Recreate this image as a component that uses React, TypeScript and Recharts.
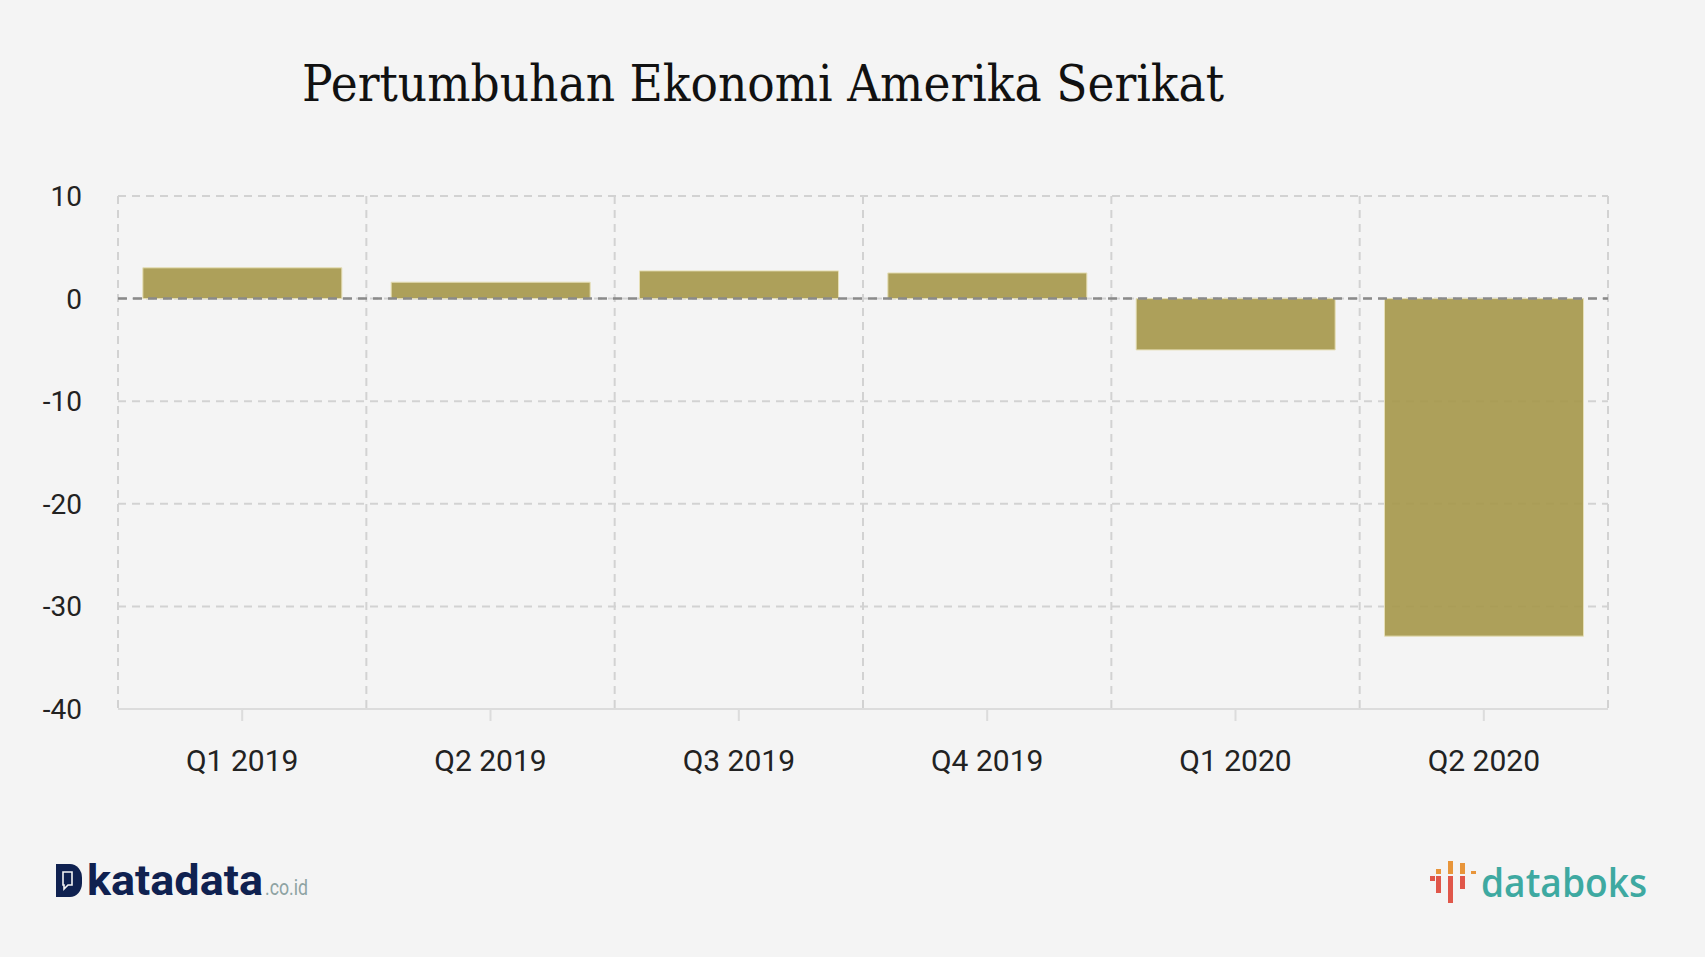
import React from 'react';
import { BarChart, Bar, XAxis, YAxis, CartesianGrid, ReferenceLine } from 'recharts';

const categories = ['Q1 2019', 'Q2 2019', 'Q3 2019', 'Q4 2019', 'Q1 2020', 'Q2 2020'];
const growth = [3.0, 1.6, 2.7, 2.5, -5.0, -32.9];
const yTicks = [-40, -30, -20, -10, 0, 10];
const title = 'Pertumbuhan Ekonomi Amerika Serikat';

const data = categories.map((c, i) => ({ name: c, value: growth[i] }));

const W = 1705;
const H = 957;

export default function App() {
  return (
    <div style={{ position: 'absolute', left: 0, top: 0, width: W, height: H, background: '#f4f4f4', overflow: 'hidden' }}>
      <BarChart
        width={W}
        height={H}
        data={data}
        margin={{ top: 196, right: 97, bottom: 168, left: 8 }}
        barCategoryGap="10%"
      >
        <CartesianGrid
          stroke="#d2d2d2"
          strokeWidth={2}
          strokeDasharray="8 6"
          verticalCoordinatesGenerator={({ offset }: any) => {
            const pts: number[] = [];
            for (let i = 0; i <= categories.length; i++) {
              pts.push(offset.left + (i * offset.width) / categories.length);
            }
            return pts;
          }}
        />
        <XAxis
          dataKey="name"
          height={80}
          axisLine={{ stroke: '#dcdcdc', strokeWidth: 2 }}
          tickLine={{ stroke: '#dcdcdc', strokeWidth: 2 }}
          tickSize={12}
          tickMargin={29}
          tick={{ fill: '#222', fontSize: 30, fontFamily: 'Roboto' }}
          interval={0}
        />
        <YAxis
          width={110}
          domain={[-40, 10]}
          ticks={yTicks}
          axisLine={false}
          tickLine={false}
          tickSize={0}
          tickMargin={36}
          tick={{ fill: '#222', fontSize: 28, fontFamily: 'Roboto' }}
        />
        <Bar
          dataKey="value"
          fill="#a59749"
          fillOpacity={0.9}
          stroke="#e6dfb6"
          strokeWidth={1}
          isAnimationActive={false}
        />
        <ReferenceLine y={0} stroke="#8a8a8a" strokeWidth={2.5} strokeDasharray="9 6" />
      </BarChart>

      <svg
        width={W}
        height={H}
        style={{ position: 'absolute', left: 0, top: 0, pointerEvents: 'none' }}
      >
        <text
          x={302}
          y={101}
          fontFamily="'DejaVu Serif', serif"
          fontSize={50}
          fill="#111"
          textLength={922}
          lengthAdjust="spacingAndGlyphs"
        >
          {title}
        </text>

        {/* katadata logo */}
        <path d="M56 864 H70 A12 14 0 0 1 82 878 V883 A12 14 0 0 1 70 897 H56 Z" fill="#0f2150" />
        <path d="M63 872 H72 V885 H68 L64 889 V885 H63 Z" fill="none" stroke="#f4f4f4" strokeWidth={1.6} />
        <text x={87} y={895} fontFamily="Roboto" fontWeight={700} fontSize={42} fill="#0f2150" textLength={176} lengthAdjust="spacingAndGlyphs">
          katadata
        </text>
        <text x={265} y={895} fontFamily="Roboto" fontSize={22} fill="#8ea3a3" textLength={43} lengthAdjust="spacingAndGlyphs">
          .co.id
        </text>

        {/* databoks logo */}
        <rect x={1430} y={876} width={5} height={5} fill="#e0574a" />
        <rect x={1436} y={869} width={5} height={5} fill="#e8953a" />
        <rect x={1436} y={876} width={5} height={17} fill="#e0574a" />
        <rect x={1448} y={861} width={5} height={13} fill="#e8953a" />
        <rect x={1448} y={876} width={5} height={27} fill="#e0574a" />
        <rect x={1460} y={863} width={5} height={11} fill="#e8953a" />
        <rect x={1460} y={876} width={5} height={13} fill="#e0574a" />
        <rect x={1471} y={871} width={5} height={3} fill="#e8953a" />
        <text x={1481} y={897} fontFamily="'Open Sans'" fontWeight={600} fontSize={40} fill="#3ea9a1" textLength={166} lengthAdjust="spacingAndGlyphs">
          databoks
        </text>
      </svg>
    </div>
  );
}
